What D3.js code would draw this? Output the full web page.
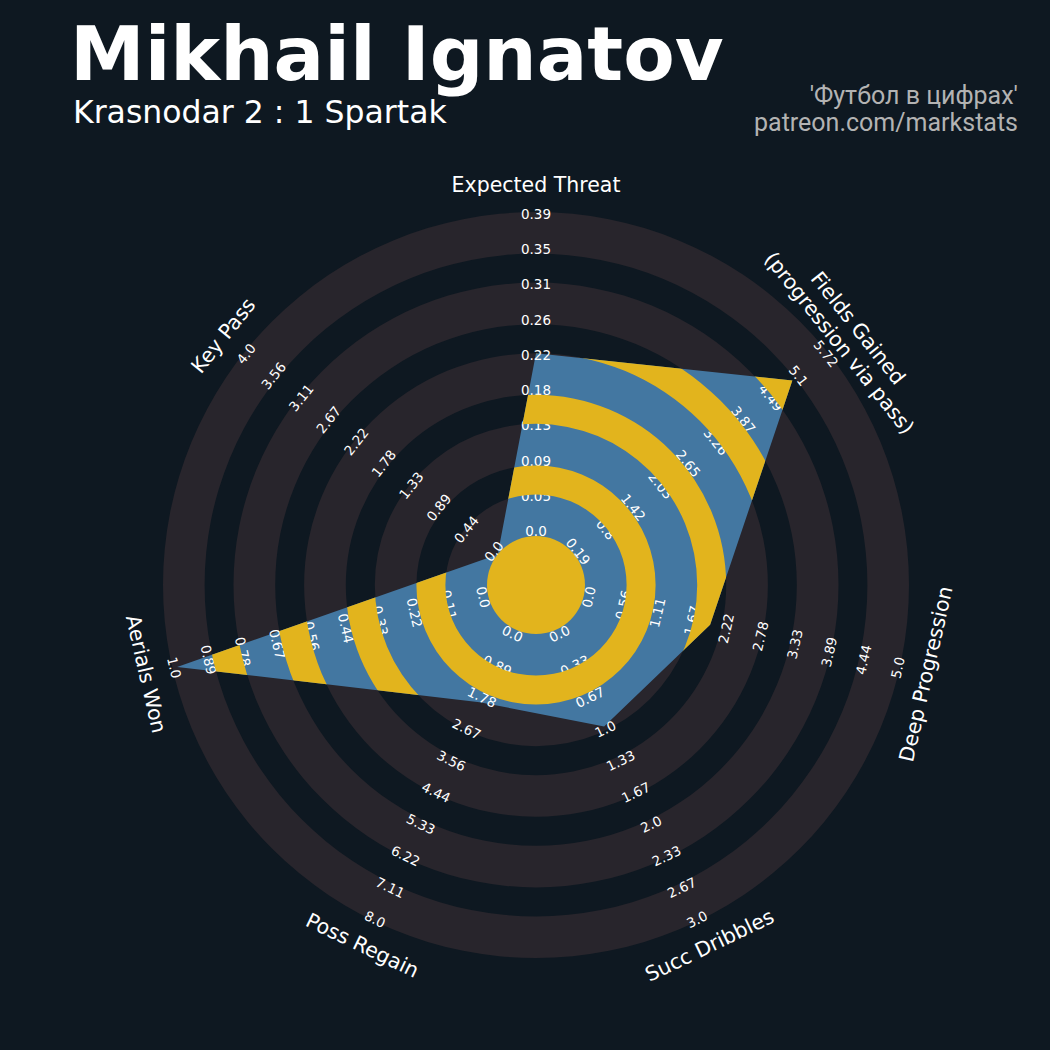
<!DOCTYPE html>
<html>
<head>
<meta charset="utf-8">
<script src="https://cdn.jsdelivr.net/npm/d3@7"></script>
<style>
  body { margin: 0; background: #0e1821; }
  svg { display: block; }
</style>
</head>
<body>
<div id="chart"></div>
<script>
// radar data
var params = ["Expected Threat", "Fields Gained\n(progression via pass)", "Deep Progression",
              "Succ Dribbles", "Poss Regain", "Aerials Won", "Key Pass"];
var values = [0.22, 4.95, 2.0, 1.0, 2.0, 0.985, 0.0];
var lows   = [0, 0.19, 0, 0, 0, 0, 0];
var highs  = [0.39, 5.72, 5.0, 3.0, 8.0, 1.0, 4.0];

var tickLabels = [
  ["0.0", "0.05", "0.09", "0.13", "0.18", "0.22", "0.26", "0.31", "0.35", "0.39"],
  ["0.19", "0.8", "1.42", "2.03", "2.65", "3.26", "3.87", "4.49", "5.1", "5.72"],
  ["0.0", "0.56", "1.11", "1.67", "2.22", "2.78", "3.33", "3.89", "4.44", "5.0"],
  ["0.0", "0.33", "0.67", "1.0", "1.33", "1.67", "2.0", "2.33", "2.67", "3.0"],
  ["0.0", "0.89", "1.78", "2.67", "3.56", "4.44", "5.33", "6.22", "7.11", "8.0"],
  ["0.0", "0.11", "0.22", "0.33", "0.44", "0.56", "0.67", "0.78", "0.89", "1.0"],
  ["0.0", "0.44", "0.89", "1.33", "1.78", "2.22", "2.67", "3.11", "3.56", "4.0"]
];

var title = "Mikhail Ignatov",
    subtitle = "Krasnodar 2 : 1 Spartak",
    credits = ["'Футбол в цифрах'", "patreon.com/markstats"];

// layout
var width = 1050, height = 1050,
    cx = 536, cy = 585,
    innerR = 49, outerR = 373,
    grayW = 41.6, darkW = 29,
    labelR0 = 54, labelR1 = 371,
    paramR = 400;

var bg = "#0e1821", ringColor = "#28252c", blue = "#4377a1", yellow = "#e2b41d";

var svg = d3.select("#chart").append("svg")
  .attr("width", width)
  .attr("height", height);

svg.append("rect").attr("width", width).attr("height", height).attr("fill", bg);

var g = svg.append("g").attr("transform", "translate(" + cx + "," + cy + ")");

// ring bands: gray ones are the background, dark ones turn yellow inside the radar
var grayRings = [], darkRings = [];
var r = innerR;
for (var k = 0; k < 5; k++) {
  grayRings.push([r, r + grayW]);
  r += grayW;
  if (k < 4) { darkRings.push([r, r + darkW]); r += darkW; }
}

var ringArc = d3.arc()
  .innerRadius(function(d){ return d[0]; })
  .outerRadius(function(d){ return d[1]; })
  .startAngle(0)
  .endAngle(2 * Math.PI);

g.selectAll(".ring").data(grayRings).enter()
  .append("path")
  .attr("class", "ring")
  .attr("d", ringArc)
  .attr("fill", ringColor);

var step = 2 * Math.PI / params.length;
var scales = params.map(function(p, i){
  return d3.scaleLinear().domain([lows[i], highs[i]]).range([innerR, outerR]).clamp(true);
});

var radial = d3.lineRadial()
  .angle(function(d, i){ return i * step; })
  .radius(function(d, i){ return scales[i](d); })
  .curve(d3.curveLinearClosed);

var polyPath = radial(values);

svg.append("defs").append("clipPath")
  .attr("id", "radarClip")
  .append("path")
  .attr("d", polyPath)
  .attr("transform", "translate(" + cx + "," + cy + ")");

g.append("path")
  .attr("d", polyPath)
  .attr("fill", blue);

var clipped = svg.append("g").attr("clip-path", "url(#radarClip)")
  .append("g").attr("transform", "translate(" + cx + "," + cy + ")");

clipped.selectAll(".band").data(darkRings).enter()
  .append("path")
  .attr("class", "band")
  .attr("d", ringArc)
  .attr("fill", yellow);

g.append("circle").attr("r", innerR).attr("fill", yellow);

// text rotation along the tangent, flipped on the lower half
function rot(deg){
  if (deg > 90 && deg < 270) return deg - 180;
  return deg;
}

var labelR = d3.scaleLinear().domain([0, 9]).range([labelR0, labelR1]);

params.forEach(function(p, i){
  var a = i * step, deg = a * 180 / Math.PI;
  var sx = Math.sin(a), sy = -Math.cos(a);

  tickLabels[i].forEach(function(t, j){
    var rr = labelR(j);
    g.append("text")
      .attr("transform", "translate(" + (sx * rr) + "," + (sy * rr) + ") rotate(" + rot(deg) + ")")
      .attr("text-anchor", "middle")
      .attr("dominant-baseline", "central")
      .attr("fill", "#ffffff")
      .style("font-family", "DejaVu Sans")
      .style("font-size", "13.5px")
      .text(t);
  });

  var lines = p.split("\n");
  var txt = g.append("text")
    .attr("transform", "translate(" + (sx * paramR) + "," + (sy * paramR) + ") rotate(" + rot(deg) + ")")
    .attr("text-anchor", "middle")
    .attr("fill", "#ffffff")
    .style("font-family", "DejaVu Sans")
    .style("font-size", "20.5px");
  lines.forEach(function(l, j){
    txt.append("tspan")
      .attr("x", 0)
      .attr("y", (j - (lines.length - 1) / 2) * 24)
      .attr("dominant-baseline", "central")
      .text(l);
  });
});

// headings
svg.append("text")
  .attr("x", 70).attr("y", 80)
  .attr("fill", "#ffffff")
  .style("font-family", "DejaVu Sans")
  .style("font-weight", "bold")
  .style("font-size", "75px")
  .text(title);

svg.append("text")
  .attr("x", 73).attr("y", 123)
  .attr("fill", "#ffffff")
  .style("font-family", "DejaVu Sans")
  .style("font-size", "31.5px")
  .text(subtitle);

svg.selectAll(".credit").data(credits).enter()
  .append("text")
  .attr("class", "credit")
  .attr("x", 1018)
  .attr("y", function(d, i){ return 104 + i * 27; })
  .attr("text-anchor", "end")
  .attr("fill", "#b3b3b3")
  .style("font-family", "Roboto")
  .style("font-size", "25px")
  .text(function(d){ return d; });
</script>
</body>
</html>
